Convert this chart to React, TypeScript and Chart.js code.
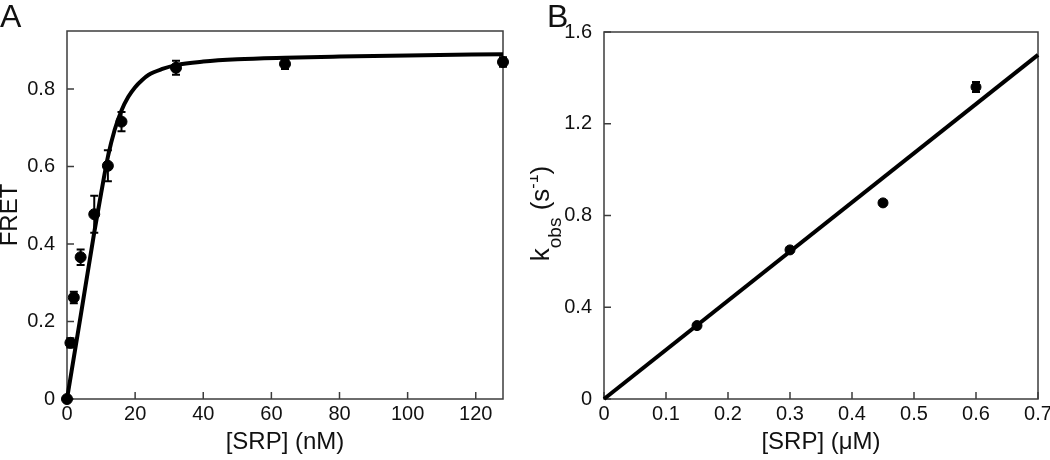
import React, { useEffect, useRef } from 'react';
import { Chart, registerables } from 'chart.js';

Chart.register(...registerables);

const FONT = "'Liberation Sans', Arial, Helvetica, sans-serif";
const INK = '#111111';
const AXIS = '#3c3c3c';

// ---------- Panel A data ----------
const srpA = [0, 1, 2, 4, 8, 12, 16, 32, 64, 128];
const fretA = [0, 0.145, 0.262, 0.366, 0.477, 0.602, 0.716, 0.855, 0.865, 0.87];
const fretErrA = [0, 0.012, 0.015, 0.02, 0.048, 0.04, 0.025, 0.018, 0.013, 0.012];
const fitXA = [0, 4, 8, 10, 12, 14, 16, 18, 20, 22, 24, 28, 32, 40, 50, 64, 80, 100, 128];
const fitYA = [0, 0.214, 0.43, 0.53, 0.625, 0.695, 0.745, 0.78, 0.805, 0.823, 0.837, 0.852, 0.862, 0.871, 0.877, 0.881, 0.884, 0.887, 0.89];
const xTicksA = [0, 20, 40, 60, 80, 100, 120];
const yTicksA = [0, 0.2, 0.4, 0.6, 0.8];

// ---------- Panel B data ----------
const srpB = [0.15, 0.3, 0.45, 0.6];
const kobsB = [0.32, 0.65, 0.855, 1.36];
const kobsErrB = [0.008, 0.008, 0.008, 0.022];
const fitXB = [0, 0.7];
const fitYB = [0, 1.5];
const xTicksB = [0, 0.1, 0.2, 0.3, 0.4, 0.5, 0.6, 0.7];
const yTicksB = [0, 0.4, 0.8, 1.2, 1.6];

const fmt = (v: number) => String(Number(Number(v).toFixed(3)));

function framePlugin(tickLen: number) {
  return {
    id: 'frame',
    beforeDatasetsDraw(chart: any) {
      const { ctx, chartArea: a, scales } = chart;
      ctx.save();
      ctx.strokeStyle = AXIS;
      ctx.lineWidth = 1.5;
      ctx.strokeRect(a.left, a.top, a.right - a.left, a.bottom - a.top);
      ctx.beginPath();
      scales.x.ticks.forEach((t: any) => {
        const px = scales.x.getPixelForValue(t.value);
        ctx.moveTo(px, a.bottom);
        ctx.lineTo(px, a.bottom - tickLen);
      });
      scales.y.ticks.forEach((t: any) => {
        const py = scales.y.getPixelForValue(t.value);
        ctx.moveTo(a.left, py);
        ctx.lineTo(a.left + tickLen, py);
      });
      ctx.stroke();
      ctx.restore();
    },
  };
}

function errorBarPlugin(xs: number[], ys: number[], errs: number[]) {
  return {
    id: 'errbars',
    afterDatasetsDraw(chart: any) {
      const { ctx, scales } = chart;
      ctx.save();
      ctx.strokeStyle = '#000';
      ctx.lineWidth = 2;
      ctx.beginPath();
      xs.forEach((x, i) => {
        if (!errs[i]) return;
        const px = scales.x.getPixelForValue(x);
        const y1 = scales.y.getPixelForValue(ys[i] - errs[i]);
        const y2 = scales.y.getPixelForValue(ys[i] + errs[i]);
        ctx.moveTo(px, y1);
        ctx.lineTo(px, y2);
        ctx.moveTo(px - 4, y1);
        ctx.lineTo(px + 4, y1);
        ctx.moveTo(px - 4, y2);
        ctx.lineTo(px + 4, y2);
      });
      ctx.stroke();
      ctx.restore();
    },
  };
}

function panelLabelPlugin(text: string, x: number, y: number) {
  return {
    id: 'panelLabel',
    afterDraw(chart: any) {
      const { ctx } = chart;
      ctx.save();
      ctx.fillStyle = INK;
      ctx.font = `32px ${FONT}`;
      ctx.textBaseline = 'alphabetic';
      ctx.textAlign = 'left';
      ctx.fillText(text, x, y);
      ctx.restore();
    },
  };
}

const kobsTitlePlugin = {
  id: 'kobsTitle',
  afterDraw(chart: any) {
    const { ctx, chartArea: a } = chart;
    const parts = [
      { t: 'k', size: 26, dy: 0 },
      { t: 'obs', size: 19, dy: 12 },
      { t: ' (s', size: 26, dy: 0 },
      { t: '-1', size: 16, dy: -11 },
      { t: ')', size: 26, dy: 0 },
    ];
    ctx.save();
    let total = 0;
    const widths = parts.map((p) => {
      ctx.font = `${p.size}px ${FONT}`;
      const w = ctx.measureText(p.t).width;
      total += w;
      return w;
    });
    const cy = (a.top + a.bottom) / 2 - 2;
    ctx.translate(19, cy);
    ctx.rotate(-Math.PI / 2);
    ctx.fillStyle = INK;
    ctx.textBaseline = 'alphabetic';
    ctx.textAlign = 'left';
    let x = -total / 2;
    parts.forEach((p, i) => {
      ctx.font = `${p.size}px ${FONT}`;
      ctx.fillText(p.t, x, p.dy);
      x += widths[i];
    });
    ctx.restore();
  },
};

function axis(min: number, max: number, ticks: number[], extra: any) {
  return {
    type: 'linear',
    min,
    max,
    afterBuildTicks: (s: any) => {
      s.ticks = ticks.map((v) => ({ value: v }));
    },
    grid: { display: false, drawTicks: false },
    border: { display: false },
    ...extra,
  };
}

const fixX = (s: any) => {
  s.height = 61;
  s.paddingLeft = 0;
  s.paddingRight = 0;
};
const fixY = (w: number) => (s: any) => {
  s.width = w;
  s.paddingTop = 0;
  s.paddingBottom = 0;
};

function cfgA(): any {
  return {
    type: 'scatter',
    data: {
      datasets: [
        {
          data: srpA.map((x, i) => ({ x, y: fretA[i] })),
          backgroundColor: '#000',
          borderColor: '#000',
          pointRadius: 5.5,
          pointHoverRadius: 5.5,
          showLine: false,
          clip: false,
        },
        {
          data: fitXA.map((x, i) => ({ x, y: fitYA[i] })),
          borderColor: '#000',
          borderWidth: 4,
          pointRadius: 0,
          showLine: true,
          cubicInterpolationMode: 'monotone',
          clip: false,
        },
      ],
    },
    options: {
      animation: false,
      responsive: false,
      events: [],
      layout: { padding: { left: 0, top: 31, right: 27, bottom: 0 } },
      plugins: { legend: { display: false }, tooltip: { enabled: false } },
      scales: {
        x: axis(0, 128, xTicksA, {
          ticks: { font: { family: FONT, size: 20 }, color: INK, padding: 3, maxRotation: 0, autoSkip: false, callback: (v: number) => fmt(v) },
          title: { display: true, text: '[SRP] (nM)', color: INK, font: { family: FONT, size: 24 }, padding: { top: 0, bottom: 3 } },
          afterFit: fixX,
        }),
        y: axis(0, 0.95, yTicksA, {
          ticks: { font: { family: FONT, size: 20 }, color: INK, padding: 12, autoSkip: false, callback: (v: number) => fmt(v) },
          title: { display: true, text: 'FRET', color: INK, font: { family: FONT, size: 24, lineHeight: 0.85 }, padding: { top: 0, bottom: 0 } },
          afterFit: fixY(67),
        }),
      },
    },
    plugins: [framePlugin(7), errorBarPlugin(srpA, fretA, fretErrA), panelLabelPlugin('A', 0, 27)],
  };
}

function cfgB(): any {
  return {
    type: 'scatter',
    data: {
      datasets: [
        {
          data: srpB.map((x, i) => ({ x, y: kobsB[i] })),
          backgroundColor: '#000',
          borderColor: '#000',
          pointRadius: 5,
          pointHoverRadius: 5,
          showLine: false,
          clip: false,
        },
        {
          data: fitXB.map((x, i) => ({ x, y: fitYB[i] })),
          borderColor: '#000',
          borderWidth: 4,
          pointRadius: 0,
          showLine: true,
          clip: false,
        },
      ],
    },
    options: {
      animation: false,
      responsive: false,
      events: [],
      layout: { padding: { left: 0, top: 32, right: 12, bottom: 0 } },
      plugins: { legend: { display: false }, tooltip: { enabled: false } },
      scales: {
        x: axis(0, 0.7, xTicksB, {
          ticks: { font: { family: FONT, size: 20 }, color: INK, padding: 3, maxRotation: 0, autoSkip: false, callback: (v: number) => fmt(v) },
          title: { display: true, text: '[SRP] (\u03bcM)', color: INK, font: { family: FONT, size: 24 }, padding: { top: 0, bottom: 3 } },
          afterFit: fixX,
        }),
        y: axis(0, 1.6, yTicksB, {
          ticks: { font: { family: FONT, size: 20 }, color: INK, padding: 12, autoSkip: false, callback: (v: number) => fmt(v) },
          title: { display: false },
          afterFit: fixY(74),
        }),
      },
    },
    plugins: [framePlugin(7), errorBarPlugin(srpB, kobsB, kobsErrB), panelLabelPlugin('B', 17, 27), kobsTitlePlugin],
  };
}

export default function App() {
  const refA = useRef<HTMLCanvasElement>(null);
  const refB = useRef<HTMLCanvasElement>(null);
  useEffect(() => {
    const a = new Chart(refA.current as HTMLCanvasElement, cfgA());
    const b = new Chart(refB.current as HTMLCanvasElement, cfgB());
    return () => {
      a.destroy();
      b.destroy();
    };
  }, []);
  return (
    <div style={{ position: 'fixed', left: 0, top: 0, width: 1050, height: 460, background: '#fff', overflow: 'hidden' }}>
      <canvas ref={refA} width={530} height={460} style={{ position: 'absolute', left: 0, top: 0, width: 530, height: 460 }} />
      <canvas ref={refB} width={520} height={460} style={{ position: 'absolute', left: 530, top: 0, width: 520, height: 460 }} />
    </div>
  );
}
